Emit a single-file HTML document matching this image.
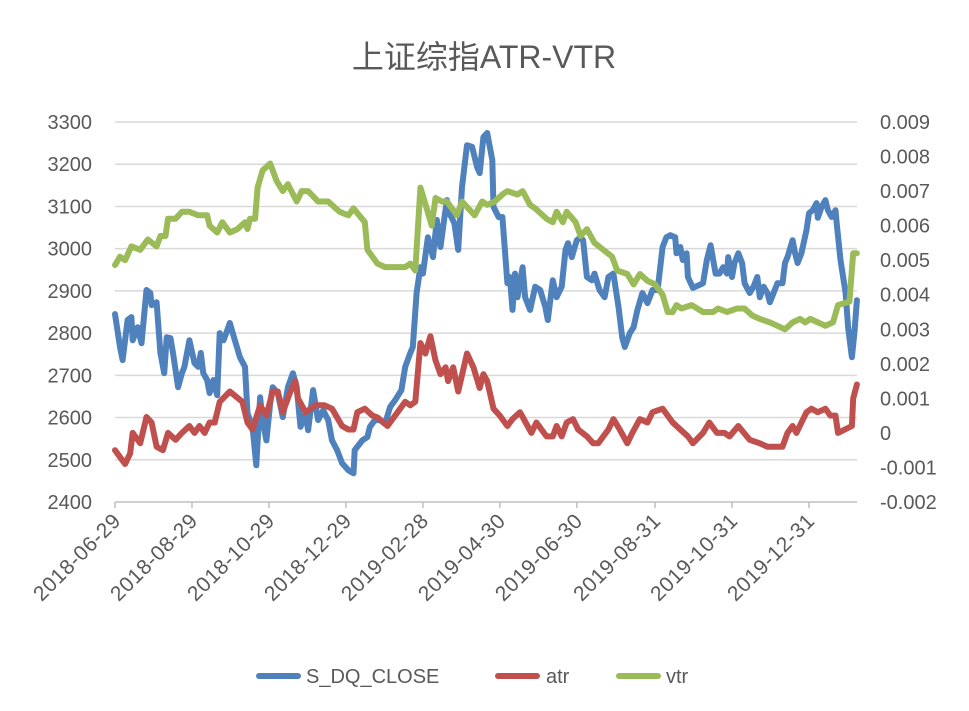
<!DOCTYPE html>
<html><head><meta charset="utf-8"><style>
body{margin:0;background:#fff;}
svg{display:block;font-family:"Liberation Sans","Noto Sans CJK SC",sans-serif;}
</style></head><body>
<svg id="chart" width="969" height="711" viewBox="0 0 969 711">
<rect width="969" height="711" fill="#fff"/>
<text x="484" y="68" text-anchor="middle" font-size="32" fill="#595959">上证综指ATR-VTR</text>
<g id="grid"></g>
<g id="axes"></g>
<g id="series"></g>
<g>
<g><line x1="259" y1="676" x2="298" y2="676" stroke="#4f81bd" stroke-width="6" stroke-linecap="round"/><text x="306" y="683" font-size="20" fill="#595959">S_DQ_CLOSE</text></g>
<g><line x1="498" y1="676" x2="537" y2="676" stroke="#c0504d" stroke-width="6" stroke-linecap="round"/><text x="546" y="683" font-size="20" fill="#595959">atr</text></g>
<g><line x1="619" y1="676" x2="658" y2="676" stroke="#9bbb59" stroke-width="6" stroke-linecap="round"/><text x="666" y="683" font-size="20" fill="#595959">vtr</text></g>
</g>
</svg>
<script>
const leftTicks=[2400,2500,2600,2700,2800,2900,3000,3100,3200,3300];
const rightTicks=[-0.002,-0.001,0,0.001,0.002,0.003,0.004,0.005,0.006,0.007,0.008,0.009];
const rightTickLabels=["-0.002","-0.001","0","0.001","0.002","0.003","0.004","0.005","0.006","0.007","0.008","0.009"];
const xTickDays=[0,61,122,183,244,305,366,428,489,550];
const xTickLabels=["2018-06-29","2018-08-29","2018-10-29","2018-12-29","2019-02-28","2019-04-30","2019-06-30","2019-08-31","2019-10-31","2019-12-31"];

const closeDays=[0,4,6,10,13,14,18,21,25,28,29,33,36,39,41,44,46,50,53,55,59,63,66,68,70,73,75,78,81,83,86,89,91,95,99,103,105,109,112,115,117,120,123,125,129,133,137,141,144,
147,151,153,157,161,165,169,172,176,180,185,189,190,196,200,202,206,210,214,218,222,227,230,234,236,239,242,244,248,252,255,258,260,263,265,269,272,275,279,283,287,289,292,
295,299,300,304,307,311,313,315,317,319,323,325,329,333,337,341,343,347,350,354,357,359,362,366,369,371,374,378,380,384,388,391,395,399,402,404,408,411,414,418,422,426,430,434,437,
440,444,445,448,450,453,454,458,466,469,472,476,479,482,485,486,489,491,494,497,499,503,506,509,511,514,517,519,525,529,531,533,537,539,541,544,548,550,553,556,557,560,563,565,568,571,572,575,579,581,584,586,588];
const closeValues=[2845,2767,2736,2831,2838,2783,2814,2776,2902,2895,2866,2873,2753,2705,2790,2788,2753,2672,2705,2720,2783,2729,2720,2753,2705,2689,2658,2689,2653,2800,2783,2807,2824,2783,2743,2720,2610,2578,2487,2648,2594,2546,2634,2672,2658,2601,2672,2705,2672,
2578,2610,2570,2665,2594,2617,2594,2546,2523,2492,2475,2468,2523,2546,2554,2578,2594,2594,2585,2625,2641,2665,2720,2753,2767,2895,2956,2941,3027,2980,3068,3004,3051,3115,3084,3060,2997,3146,3245,3241,3193,3179,3264,
3274,3210,3099,3075,3075,2918,2933,2855,2941,2885,2956,2885,2855,2910,2902,2862,2831,2925,2885,2910,2997,3013,2980,3020,3027,3020,2933,2925,2941,2902,2885,2933,2941,2862,2790,2767,2800,2814,2855,2895,2871,2902,2902,3004,3027,
3032,3027,2989,3004,2973,2989,2933,2907,2918,2973,3008,2941,2941,2956,2941,2980,2933,2966,2989,2966,2918,2895,2910,2933,2885,2910,2895,2873,2918,2918,2966,2980,3020,2989,2966,2989,3044,3084,3091,3108,3073,3099,3115,3091,3075,3091,3060,2973,2895,2814,2743,2800,2878];

const atrDays=[0,8,12,14,20,25,29,33,38,42,48,53,59,63,67,71,75,79,83,91,101,105,109,115,120,125,129,133,139,143,145,151,159,166,172,180,185,189,192,198,204,208,216,222,230,234,238,242,246,250,254,258,262,264,268,272,279,284,289,292,295,300,305,311,315,321,327,330,334,342,347,350,354,358,363,367,374,379,383,387,391,395,400,406,410,416,422,426,434,438,442,448,454,458,466,471,477,483,487,494,503,511,517,525,529,533,537,540,548,552,557,563,567,571,573,584,585,588];
const atrValues=[-0.0005,-0.0009,-0.0006,0.0000,-0.0003,0.00046,0.0003,-0.0004,-0.0005,0.0000,-0.0002,0.0000,0.0002,0.0000,0.0002,0.0000,0.0003,0.0003,0.0009,0.0012,0.0009,0.0003,0.0001,0.0008,0.0005,0.0012,0.0012,0.0006,0.0012,0.0015,0.0010,0.0006,0.0008,0.0008,0.0007,0.0002,0.0001,0.0001,0.0006,0.0007,0.0005,0.00045,0.0002,0.0005,0.0009,0.0008,0.0009,0.0026,0.0023,0.0028,0.0021,0.0017,0.0019,0.0015,0.0019,0.0012,0.0023,0.0019,0.0013,0.0017,0.0015,0.0007,0.0005,0.0002,0.0004,0.0006,0.0002,0.0000,0.0003,-0.0001,-0.0001,0.0002,-0.0001,0.0003,0.0004,0.0001,-0.0001,-0.0003,-0.0003,-0.0001,0.0001,0.0004,0.0001,-0.0003,0.0000,0.0004,0.0003,0.0006,0.0007,0.0005,0.0003,0.0001,-0.0001,-0.0003,0.0000,0.0003,0.0000,0.0000,-0.0001,0.0002,-0.0002,-0.0003,-0.0004,-0.0004,-0.0004,0.0000,0.0002,0.0000,0.0006,0.0007,0.0006,0.0007,0.0005,0.0005,0.0000,0.0002,0.0010,0.0014];

const vtrDays=[0,4,8,13,20,26,33,36,40,42,48,53,59,66,73,75,81,85,91,97,103,105,107,111,113,117,123,128,133,137,144,148,153,161,169,178,185,189,198,200,208,214,222,230,234,238,242,247,251,254,259,263,267,271,275,280,285,291,295,301,307,311,319,323,329,333,342,347,350,355,358,365,369,374,380,387,394,398,406,411,416,422,428,434,438,442,445,449,457,466,474,478,485,493,499,505,511,519,525,531,537,543,547,551,557,563,569,573,582,585,588];
const vtrValues=[0.00486,0.0051,0.0050,0.0054,0.0053,0.0056,0.0054,0.0057,0.0057,0.0062,0.0062,0.0064,0.0064,0.0063,0.0063,0.0060,0.0058,0.0061,0.0058,0.0059,0.0061,0.0059,0.0062,0.0062,0.0071,0.0076,0.0078,0.0073,0.0070,0.0072,0.0067,0.0070,0.0070,0.0067,0.0067,0.0064,0.0063,0.0065,0.0061,0.0053,0.0049,0.0048,0.0048,0.0048,0.0049,0.0047,0.0071,0.0065,0.0060,0.0068,0.0067,0.0067,0.0065,0.0063,0.0067,0.0065,0.0063,0.0067,0.0066,0.0067,0.0069,0.0070,0.0069,0.0070,0.0066,0.0065,0.0062,0.0061,0.0064,0.0061,0.0064,0.0061,0.0057,0.0059,0.0055,0.0053,0.0051,0.0047,0.0046,0.0043,0.0046,0.0044,0.0043,0.0040,0.0035,0.0035,0.0037,0.0036,0.0037,0.0035,0.0035,0.0036,0.0035,0.0036,0.0036,0.0034,0.0033,0.0032,0.0031,0.0030,0.0032,0.0033,0.0032,0.0033,0.0032,0.0031,0.0032,0.0037,0.0038,0.0052,0.0052];

const X0=115,PPD=1.2618,YT=122,YB=502;
function xS(d){return X0+d*PPD;}
function yL(v){return YB-(v-2400)/900*(YB-YT);}
function yR(v){return YB-(v+0.002)/0.011*(YB-YT);}
const NS="http://www.w3.org/2000/svg";
function mk(tag,attrs,parent){const e=document.createElementNS(NS,tag);for(const k in attrs)e.setAttribute(k,attrs[k]);parent.appendChild(e);return e;}
const grid=document.getElementById('grid'),axes=document.getElementById('axes'),series=document.getElementById('series');
leftTicks.forEach((v,i)=>{
  const y=yL(v);
  const gl=mk('line',{x1:X0,x2:857,y1:y,y2:y,stroke:i===0?'#bfbfbf':'#d9d9d9','stroke-width':1.5},grid);
  
  
  const t=mk('text',{x:92,y:y+7,'text-anchor':'end','font-size':20,fill:'#595959'},axes);
  t.textContent=v;
  
  
});
rightTicks.forEach((v,i)=>{
  const t=mk('text',{x:880,y:yR(v)+7,'font-size':20,fill:'#595959'},axes);
  t.textContent=rightTickLabels[i];
  
  
});
xTickDays.forEach((d,i)=>{
  const x=xS(d);
  const tk=mk('line',{x1:x,x2:x,y1:YB,y2:YB+6,stroke:'#bfbfbf','stroke-width':1.5},axes);
  
  
  const t=mk('text',{x:x+7,y:YB+20,'text-anchor':'end','font-size':21,'letter-spacing':0.6,fill:'#595959',transform:`rotate(-45 ${x+7} ${YB+20})`},axes);
  t.textContent=xTickLabels[i];
  
  
});
function line(days,vals,ys,color,name){
  const pts=days.map((d,i)=>xS(d).toFixed(1)+','+ys(vals[i]).toFixed(1)).join(' ');
  const p=mk('polyline',{points:pts,fill:'none',stroke:color,'stroke-width':6,'stroke-linejoin':'round','stroke-linecap':'round'},series);
  
  
}
line(closeDays,closeValues,yL,'#4f81bd','close-line');
line(atrDays,atrValues,yR,'#c0504d','atr-line');
line(vtrDays,vtrValues,yR,'#9bbb59','vtr-line');
</script>
</body></html>
